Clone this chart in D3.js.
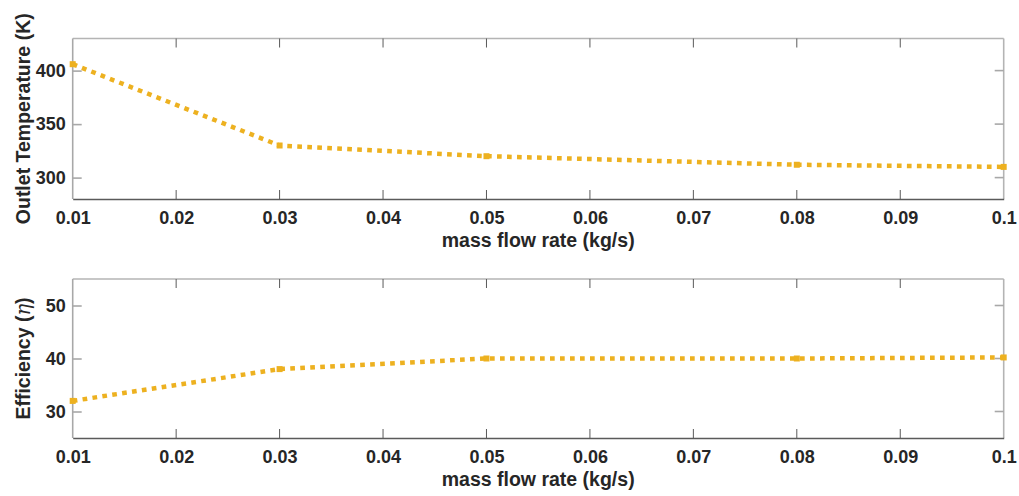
<!DOCTYPE html>
<html>
<head>
<meta charset="utf-8">
<script src="https://cdn.jsdelivr.net/npm/d3@7"></script>
<style>
  body { margin: 0; background: #fff; }
  text { font-family: "Liberation Sans", Arial, sans-serif; fill: #262626; }
</style>
</head>
<body>
<svg width="1019" height="496"></svg>
<script>
// données
const massFlow = [0.01, 0.03, 0.05, 0.08, 0.1];
const outletTemp = [406, 330, 320, 312, 310];
const efficiency = [32, 38, 40, 40, 40.2];
const xTicks = [0.01, 0.02, 0.03, 0.04, 0.05, 0.06, 0.07, 0.08, 0.09, 0.1];
const tempTicks = [300, 350, 400];
const effTicks = [30, 40, 50];

const svg = d3.select("svg");
const lineColor = "#EDB120";
const left = 72.7, right = 1003.7;

const x = d3.scaleLinear().domain([0.01, 0.1]).range([left, right]);

function drawPanel(top, bottom, yDomain, yTicks, values, labelFn) {
    const y = d3.scaleLinear().domain(yDomain).range([bottom, top]);
    const g = svg.append("g");

    // cadre
    g.append("line").attr("x1", left).attr("x2", right).attr("y1", top).attr("y2", top)
        .attr("stroke", "#b4b4b4").attr("stroke-width", 1.6);
    g.append("line").attr("x1", right).attr("x2", right).attr("y1", top).attr("y2", bottom)
        .attr("stroke", "#b4b4b4").attr("stroke-width", 1.6);
    g.append("line").attr("x1", left).attr("x2", left).attr("y1", top).attr("y2", bottom)
        .attr("stroke", "#a8a8a8").attr("stroke-width", 1.6);

    // axe x
    const xAxis = g.append("g")
        .attr("transform", `translate(0,${bottom})`)
        .call(d3.axisBottom(x).tickValues(xTicks).tickSize(0).tickPadding(12)
            .tickFormat(d => d3.format("")(+d.toFixed(2))));
    xAxis.select(".domain").attr("stroke", "#5a5a5a").attr("stroke-width", 1.6);
    xAxis.selectAll("text").attr("font-size", 18).attr("font-weight", "bold").attr("fill", "#262626");

    // graduations internes x (bas et haut)
    g.selectAll(".xtb").data(xTicks.slice(1, -1)).enter().append("line")
        .attr("x1", d => x(d)).attr("x2", d => x(d))
        .attr("y1", bottom).attr("y2", bottom - 9)
        .attr("stroke", "#5a5a5a").attr("stroke-width", 1);
    g.selectAll(".xtt").data(xTicks.slice(1, -1)).enter().append("line")
        .attr("x1", d => x(d)).attr("x2", d => x(d))
        .attr("y1", top).attr("y2", top + 9)
        .attr("stroke", "#5a5a5a").attr("stroke-width", 1);

    // axe y
    const yAxis = g.append("g")
        .attr("transform", `translate(${left},0)`)
        .call(d3.axisLeft(y).tickValues(yTicks).tickSize(-9).tickPadding(7));
    yAxis.select(".domain").remove();
    yAxis.selectAll(".tick line").attr("stroke", "#a8a8a8").attr("stroke-width", 1.6);
    yAxis.selectAll("text").attr("font-size", 18).attr("font-weight", "bold").attr("fill", "#262626");
    g.selectAll(".ytr").data(yTicks).enter().append("line")
        .attr("x1", right).attr("x2", right - 9)
        .attr("y1", d => y(d)).attr("y2", d => y(d))
        .attr("stroke", "#a8a8a8").attr("stroke-width", 1.6);

    // courbe pointillée
    const line = d3.line().x((d, i) => x(massFlow[i])).y(d => y(d));
    g.append("path").datum(values)
        .attr("d", line)
        .attr("fill", "none")
        .attr("stroke", lineColor)
        .attr("stroke-width", 4.5)
        .attr("stroke-dasharray", "4.7 5.3");
    g.selectAll(".pt").data(values).enter().append("rect")
        .attr("x", (d, i) => x(massFlow[i]) - 3)
        .attr("y", d => y(d) - 3)
        .attr("width", 6).attr("height", 6)
        .attr("fill", lineColor);

    // titre axe x
    g.append("text")
        .attr("x", (left + right) / 2)
        .attr("y", bottom + 48)
        .attr("text-anchor", "middle")
        .attr("font-size", 19.5)
        .attr("font-weight", "bold")
        .text("mass flow rate (kg/s)");

    // titre axe y
    const yl = g.append("text")
        .attr("transform", `translate(30,${(top + bottom) / 2}) rotate(-90)`)
        .attr("text-anchor", "middle")
        .attr("font-size", 19.5)
        .attr("font-weight", "bold");
    labelFn(yl);
}

drawPanel(38.5, 199, [280, 430], tempTicks, outletTemp, t => t.text("Outlet Temperature (K)"));
drawPanel(279, 438, [25, 55], effTicks, efficiency, t => {
    t.append("tspan").text("Efficiency (");
    t.append("tspan").attr("font-style", "italic").attr("font-weight", "normal")
        .attr("font-family", "'DejaVu Serif', serif").text("η");
    t.append("tspan").text(")");
});
</script>
</body>
</html>
